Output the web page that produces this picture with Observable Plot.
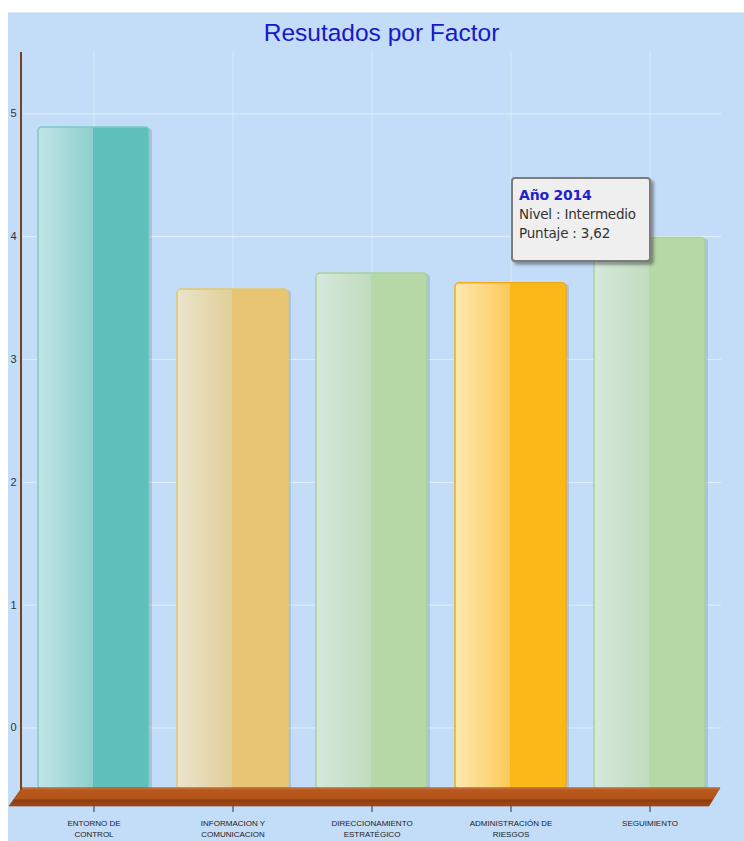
<!DOCTYPE html>
<html><head><meta charset="utf-8">
<script src="https://cdn.jsdelivr.net/npm/d3@7"></script>
<script src="https://cdn.jsdelivr.net/npm/@observablehq/plot@0.6"></script>
<style>
body{margin:0;background:#fff;}
#wrap{position:relative;width:744px;height:841px;overflow:hidden;}
#bg{position:absolute;left:8px;top:12px;width:736px;height:829px;background:#c3dcf7;border-top:1px solid #d9e8fa;}
#chart{position:absolute;left:0;top:0;}
#title{position:absolute;left:0;top:18px;width:763px;text-align:center;font:24.5px "Liberation Sans",Arial,sans-serif;color:#1818c8;line-height:30px;}
#tip{position:absolute;left:511px;top:177px;width:140px;height:85px;box-sizing:border-box;background:#efefef;border:2px solid #7c7c7c;border-radius:4px;box-shadow:3px 3px 3px rgba(0,0,0,0.35);font:13.5px "DejaVu Sans",Verdana,sans-serif;color:#333;padding:7px 0 0 6px;line-height:19px;letter-spacing:-0.2px;}
#tip b{color:#2222cc;font-size:14px;}
</style></head><body>
<div id="wrap">
<div id="bg"></div>
<div id="chart"></div>
<div id="title">Resutados por Factor</div>
<div id="tip"><b>Año 2014</b><br>Nivel : Intermedio<br>Puntaje : 3,62</div>
</div>
<script>
const categories = ["ENTORNO DE CONTROL","INFORMACION Y COMUNICACION","DIRECCIONAMIENTO ESTRATÉGICO","ADMINISTRACIÓN DE RIESGOS","SEGUIMIENTO"];
const tickLabels = ["ENTORNO DE\nCONTROL","INFORMACION Y\nCOMUNICACION","DIRECCIONAMIENTO\nESTRATÉGICO","ADMINISTRACIÓN DE\nRIESGOS","SEGUIMIENTO"];
const scores = [4.89, 3.57, 3.70, 3.62, 3.99];
const yTicks = [0, 1, 2, 3, 4, 5];
const floorValue = -0.5;
const lightColors = ["#c0e5e7","#ebe4cc","#d6e8dd","#ffe9b0","#d6e8dd"];
const midColors   = ["#8fcfcc","#e0cf98","#c0dcbe","#fcc95a","#c0dcbe"];
const darkColors  = ["#60c1bc","#e7c572","#b6d8a6","#fbb819","#b6d8a6"];
const borderColors= ["#7ccac6","#e3c868","#a9d19d","#f4a91e","#a9d19d"];

const data = categories.map((c, i) => ({cat: c, score: scores[i], i}));
const yDomain = [-0.64, 5.5];

const plot = Plot.plot({
  width: 744, height: 841,
  marginTop: 52, marginBottom: 35, marginLeft: 23, marginRight: 23,
  style: {background: "transparent", color: "#333", fontFamily: "Liberation Sans, Arial, sans-serif", fontSize: "11px", overflow: "visible"},
  x: {domain: categories, paddingInner: 0.2, paddingOuter: 0.1, axis: "bottom", tickSize: 6, tickFormat: () => "", label: null},
  y: {domain: yDomain, ticks: yTicks, tickSize: 0, tickPadding: 7, label: null, tickFormat: d => String(d)},
  marks: [
    Plot.ruleY(yTicks, {stroke: "#ffffff", strokeOpacity: 0.45, strokeWidth: 1.2}),
    Plot.ruleX(categories, {y1: () => floorValue, y2: () => yDomain[1], stroke: "#ffffff", strokeOpacity: 0.35, strokeWidth: 1.2}),
    Plot.barY(data, {x: "cat", y1: () => floorValue, y2: "score", fill: "#4a6890", fillOpacity: 0.22, dx: 3, dy: 1, rx: 4}),
    Plot.barY(data, {x: "cat", y1: () => floorValue, y2: "score", fill: d => `url(#bargrad${d.i})`, stroke: d => borderColors[d.i], strokeWidth: 1.5, rx: 4}),
    Plot.text(data, {x: "cat", y: () => yDomain[0], text: d => tickLabels[d.i], dy: 12, lineAnchor: "top", fontSize: 8, fill: "#222", lineHeight: 1.35})
  ]
});
document.getElementById("chart").appendChild(plot);

const svg = d3.select(plot);
const defs = svg.insert("defs", ":first-child");
data.forEach(d => {
  const g = defs.append("linearGradient").attr("id", `bargrad${d.i}`).attr("x1", 0).attr("x2", 1).attr("y1", 0).attr("y2", 0);
  g.append("stop").attr("offset", "0%").attr("stop-color", lightColors[d.i]);
  g.append("stop").attr("offset", "49.5%").attr("stop-color", midColors[d.i]);
  g.append("stop").attr("offset", "50%").attr("stop-color", darkColors[d.i]);
  g.append("stop").attr("offset", "100%").attr("stop-color", darkColors[d.i]);
});
const fg = defs.append("linearGradient").attr("id", "floorgrad").attr("x1", 0).attr("x2", 0).attr("y1", 0).attr("y2", 1);
[["0%","#d08048"],["12%","#b9581c"],["60%","#b3541a"],["68%","#8c3c10"],["100%","#a24b17"]].forEach(([o,c]) => fg.append("stop").attr("offset", o).attr("stop-color", c));

const xs = plot.scale("x"), ys = plot.scale("y");
const x0 = xs.range[0] - 1, x1 = xs.range[1] - 1;
const yT = ys.apply(floorValue) - 1, yB = ys.apply(yDomain[0]);
svg.append("polygon")
  .attr("points", `${x0},${yT} ${x1},${yT} ${x1 - 11},${yB} ${x0 - 13},${yB}`)
  .attr("fill", "url(#floorgrad)").attr("stroke", "#8a3a10").attr("stroke-width", 0.6);
svg.append("line")
  .attr("x1", xs.range[0] - 2).attr("x2", xs.range[0] - 2)
  .attr("y1", ys.apply(yDomain[1])).attr("y2", yT + 2)
  .attr("stroke", "#7b3f1c").attr("stroke-width", 2);
</script>
</body></html>
